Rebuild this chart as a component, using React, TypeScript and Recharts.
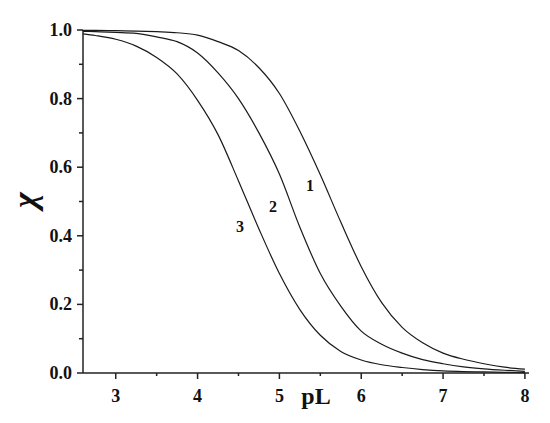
import { LineChart, Line, XAxis, YAxis, ReferenceDot } from "recharts";

const pL = [2.6, 2.75, 3, 3.25, 3.5, 3.75, 4, 4.25, 4.5, 4.75, 5, 5.25, 5.5, 5.75, 6, 6.25, 6.5, 6.75, 7, 7.25, 7.5, 7.75, 8];
const curve1 = [0.999, 0.999, 0.998, 0.997, 0.995, 0.992, 0.985, 0.966, 0.94, 0.89, 0.815, 0.705, 0.578, 0.44, 0.31, 0.205, 0.133, 0.088, 0.058, 0.04, 0.027, 0.017, 0.011];
const curve2 = [0.996, 0.995, 0.993, 0.99, 0.98, 0.966, 0.933, 0.875, 0.8, 0.7, 0.58, 0.425, 0.29, 0.195, 0.122, 0.084, 0.058, 0.039, 0.027, 0.018, 0.012, 0.008, 0.005];
const curve3 = [0.989, 0.984, 0.973, 0.953, 0.92, 0.872, 0.795, 0.695, 0.56, 0.42, 0.29, 0.185, 0.11, 0.063, 0.038, 0.024, 0.016, 0.01, 0.006, 0.004, 0.003, 0.002, 0.001];

const xTicks = [3, 3.5, 4, 4.5, 5, 5.5, 6, 6.5, 7, 7.5, 8];
const yTicks = [0, 0.1, 0.2, 0.3, 0.4, 0.5, 0.6, 0.7, 0.8, 0.9, 1];

// curve labels: name, pL, value
const labelNames = ["1", "2", "3"];
const labelX = [5.375, 4.923, 4.519];
const labelY = [0.548, 0.487, 0.429];

const data = pL.map((p, i) => ({ pL: p, c1: curve1[i], c2: curve2[i], c3: curve3[i] }));

const FONT = "Liberation Serif";
const AXIS = "#222";

const XTick = (props: any) => {
  const { x, y, payload } = props;
  const v = payload.value;
  const major = Number.isInteger(v);
  return (
    <g>
      <line x1={x} y1={y} x2={x} y2={y + (major ? 6 : 3)} stroke={AXIS} strokeWidth={1.5} />
      {major && (
        <text x={x} y={y + 29} textAnchor="middle" style={{ fontFamily: FONT, fontWeight: 700, fontSize: 18 }} fill="#111">
          {v}
        </text>
      )}
    </g>
  );
};

const YTick = (props: any) => {
  const { x, y, payload } = props;
  const v = payload.value;
  const major = Math.round(v * 10) % 2 === 0;
  return (
    <g>
      <line x1={x} y1={y} x2={x - (major ? 6 : 4)} y2={y} stroke={AXIS} strokeWidth={1.5} />
      {major && (
        <text x={x - 11} y={y + 6} textAnchor="end" style={{ fontFamily: FONT, fontWeight: 700, fontSize: 18 }} fill="#111">
          {v.toFixed(1)}
        </text>
      )}
    </g>
  );
};

export default function App() {
  return (
    <div style={{ position: "absolute", left: 0, top: 0, width: 550, height: 423, background: "#fff" }}>
      <LineChart width={550} height={423} data={data} margin={{ top: 30, right: 21, bottom: 0, left: 23 }}>
        <XAxis
          dataKey="pL"
          type="number"
          domain={[2.6, 8.05]}
          ticks={xTicks}
          tick={<XTick />}
          tickLine={false}
          tickSize={0}
          tickMargin={0}
          height={50}
          axisLine={{ stroke: AXIS, strokeWidth: 1.5 }}
          allowDataOverflow
          interval={0}
        />
        <XAxis
          xAxisId="top"
          orientation="top"
          type="number"
          domain={[2.6, 8.05]}
          tick={false}
          tickLine={false}
          height={0}
          axisLine={{ stroke: AXIS, strokeWidth: 1.5 }}
        />
        <YAxis
          type="number"
          domain={[0, 1]}
          ticks={yTicks}
          tick={<YTick />}
          tickLine={false}
          tickSize={0}
          tickMargin={0}
          width={60}
          axisLine={{ stroke: AXIS, strokeWidth: 1.5 }}
          interval={0}
        />
        <YAxis
          yAxisId="right"
          orientation="right"
          type="number"
          domain={[0, 1]}
          tick={false}
          tickLine={false}
          width={0}
          axisLine={{ stroke: AXIS, strokeWidth: 1.5 }}
        />
        <Line type="monotone" dataKey="c1" stroke="#1a1a1a" strokeWidth={1.2} dot={false} isAnimationActive={false} />
        <Line type="monotone" dataKey="c2" stroke="#1a1a1a" strokeWidth={1.2} dot={false} isAnimationActive={false} />
        <Line type="monotone" dataKey="c3" stroke="#1a1a1a" strokeWidth={1.2} dot={false} isAnimationActive={false} />
        {labelNames.map((n, i) => (
          <ReferenceDot
            key={n}
            x={labelX[i]}
            y={labelY[i]}
            r={0}
            stroke="none"
            label={{ value: n, position: "center", style: { fontFamily: FONT, fontWeight: 700, fontSize: 16 }, fill: "#111" }}
          />
        ))}
      </LineChart>
      <div
        style={{
          position: "absolute",
          left: 316,
          top: 396,
          transform: "translate(-50%, -50%)",
          fontFamily: FONT,
          fontWeight: 700,
          fontSize: 24,
          color: "#111",
          lineHeight: 1,
        }}
      >
        pL
      </div>
      <div
        style={{
          position: "absolute",
          left: 25,
          top: 200,
          transform: "translate(-50%, -50%) rotate(-90deg)",
          fontFamily: FONT,
          fontWeight: 700,
          fontStyle: "italic",
          fontSize: 34,
          color: "#111",
          lineHeight: 1,
        }}
      >
        χ
      </div>
    </div>
  );
}
